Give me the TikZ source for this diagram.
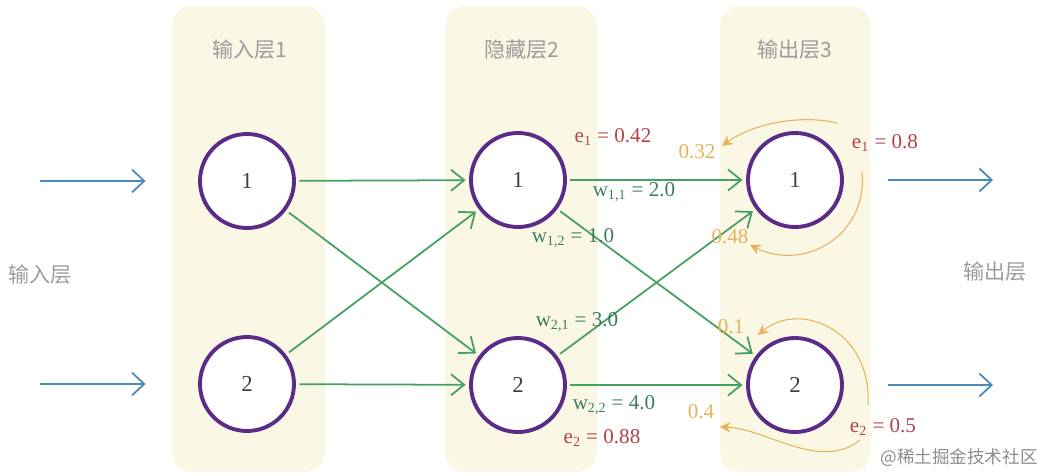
\documentclass[tikz,border=0pt]{standalone}
\usepackage{fontspec}
\setmainfont{Liberation Serif}
\newfontfamily\cjk{Noto Sans CJK SC}
\usepackage{tikz}
\usetikzlibrary{arrows, arrows.meta}

\definecolor{panelbg}{HTML}{FAF7E4}
\definecolor{ringcol}{HTML}{5B2C87}
\definecolor{inarrow}{HTML}{4A88B8}
\definecolor{linkcol}{HTML}{45A060}
\definecolor{wcol}{HTML}{3E7C5C}
\definecolor{errcol}{HTML}{B2434C}
\definecolor{backcol}{HTML}{E6B35A}
\definecolor{labcol}{HTML}{9C9C9C}

\begin{document}
\begin{tikzpicture}[x=0.2mm, y=-0.2mm,
  neuron/.style={circle, draw=ringcol, line width=2.2pt, fill=white,
    minimum size=18.8mm, inner sep=0pt, text=black!75,
    font=\fontsize{13}{15}\selectfont},
  layerlab/.style={text=labcol, font=\cjk\fontsize{12}{14}\selectfont},
  feed/.style={inarrow, line width=1pt, -{Straight Barb[length=7pt,width=13pt]}},
  link/.style={linkcol, line width=1pt, shorten <=2pt, shorten >=2pt,
    -{Straight Barb[length=7.5pt,width=12pt]}},
  back/.style={backcol, line width=0.6pt, -{Stealth[length=6pt,width=6pt]}},
  wlab/.style={text=wcol, font=\fontsize{12}{14}\selectfont},
  elab/.style={text=errcol, font=\fontsize{12}{14}\selectfont},
  blab/.style={text=backcol, font=\fontsize{12}{14}\selectfont}]
  \useasboundingbox (0,0) rectangle (1046,475);

  % Panels
  \fill[panelbg, rounded corners=4mm] (172,6) rectangle (325,472);
  \fill[panelbg, rounded corners=4mm] (445,6) rectangle (597,472);
  \fill[panelbg, rounded corners=4mm] (720,6) rectangle (870,472);
  \node[layerlab] (t1) at (250,50) {输入层1};
  \node[layerlab] (t2) at (522,50) {隐藏层2};
  \node[layerlab] (t3) at (795,50) {输出层3};
  \node[layerlab] (tin) at (40,275) {输入层};
  \node[layerlab] (tout) at (995,272) {输出层};

  % Neurons
  \node[neuron] (i1) at (247,181) {1};
  \node[neuron] (i2) at (247,384) {2};
  \node[neuron] (h1) at (518,180) {1};
  \node[neuron] (h2) at (518,385) {2};
  \node[neuron] (o1) at (795,180) {1};
  \node[neuron] (o2) at (795,385) {2};

  % Coordinates
  \coordinate (in1) at (40,181);
  \coordinate (in2) at (40,384);
  \coordinate (out1) at (993,180);
  \coordinate (out2) at (993,385);

  % Drawing
  \draw[feed] (in1) -- (i1.west) [shorten >=10.5mm];
  \draw[feed] (in2) -- (i2.west) [shorten >=10.5mm];
  \draw[feed] (o1.east) -- (out1) [shorten <=8.8mm];
  \draw[feed] (o2.east) -- (out2) [shorten <=8.8mm];

  \draw[link] (i1) -- (h1);
  \draw[link] (i1) -- (h2);
  \draw[link] (i2) -- (h1);
  \draw[link] (i2) -- (h2);
  \draw[link] (h1) -- (o1);
  \draw[link] (h1) -- (o2);
  \draw[link] (h2) -- (o1);
  \draw[link] (h2) -- (o2);

  % Back-propagated errors
  \coordinate (r1a) at (837,123);
  \coordinate (r1b) at (722,146);
  \coordinate (r1c) at (862,172);
  \coordinate (r1d) at (750,245);
  \coordinate (r2a) at (868,405);
  \coordinate (r2b) at (758,335);
  \coordinate (r2c) at (860,440);
  \coordinate (r2d) at (720,427);
  \draw[back] (r1a) .. controls (800,114) and (752,124) .. (r1b);
  \draw[back] (r1c) .. controls (868,235) and (805,272) .. (r1d);
  \draw[back] (r2a) .. controls (872,330) and (800,300) .. (r2b);
  \draw[back] (r2c) .. controls (820,472) and (765,428) .. (r2d);

  % Labels
  \node[wlab] (w11) at (634,192) {w\textsubscript{1,1} = 2.0};
  \node[wlab] (w12) at (573,238) {w\textsubscript{1,2} = 1.0};
  \node[wlab] (w21) at (577,322) {w\textsubscript{2,1} = 3.0};
  \node[wlab] (w22) at (614,405) {w\textsubscript{2,2} = 4.0};
  \node[elab] (eh1) at (613,137) {e\textsubscript{1} = 0.42};
  \node[elab] (eh2) at (602,438) {e\textsubscript{2} = 0.88};
  \node[elab] (eo1) at (885,143) {e\textsubscript{1} = 0.8};
  \node[elab] (eo2) at (883,427) {e\textsubscript{2} = 0.5};
  \node[blab] (b1) at (697,152) {0.32};
  \node[blab] (b2) at (730,237) {0.48};
  \node[blab] (b3) at (731,327) {0.1};
  \node[blab] (b4) at (701,412) {0.4};

  \node[text=black!45, font=\cjk\fontsize{10}{12}\selectfont] (mark) at (959,458) {@稀土掘金技术社区};
\end{tikzpicture}
\end{document}
